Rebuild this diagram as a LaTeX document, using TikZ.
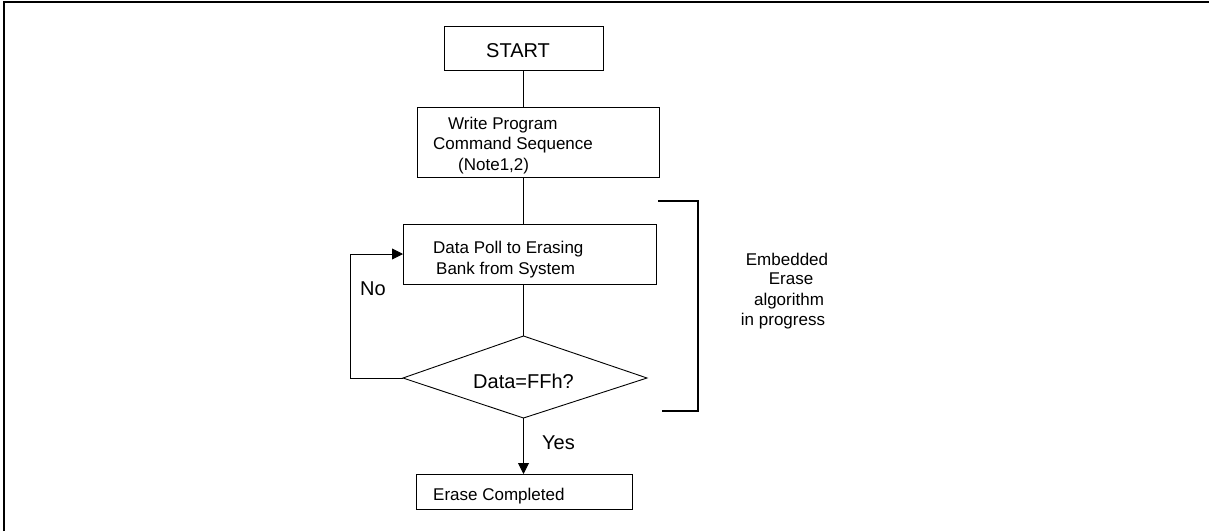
\documentclass[tikz,border=0pt]{standalone}
\usepackage{fontspec}
\setmainfont{Liberation Sans}
\usetikzlibrary{arrows.meta}
\begin{document}
\begin{tikzpicture}[x=1pt,y=-1pt,
  box/.style={draw,line width=0.9pt,inner sep=0pt,outer sep=0pt},
  dia/.style={draw,line width=0.9pt,inner sep=0pt,outer sep=0pt},
  txt/.style={inner sep=0pt,anchor=base west,font=\fontsize{17}{20}\selectfont},
  big/.style={inner sep=0pt,anchor=base west,font=\fontsize{20}{24}\selectfont},
  side/.style={inner sep=0pt,anchor=base,font=\fontsize{17}{20}\selectfont},
  conn/.style={line width=0.9pt},
  arr/.style={line width=0.9pt,-{Triangle[length=11pt,width=11pt]}},
  thick2/.style={line width=2pt}]
\useasboundingbox (0,0) rectangle (1209,531);
% frame (top and left only)
\coordinate (f1) at (4,531);
\coordinate (f2) at (4,2);
\coordinate (f3) at (1209,2);
\draw[line width=2.2pt] (f1) -- (f2) -- (f3);
% boxes
\node[box,minimum width=159pt,minimum height=44pt] (start) at (523.5,48) {};
\node[box,minimum width=242pt,minimum height=70pt] (write) at (538,142) {};
\node[box,minimum width=253pt,minimum height=60pt] (poll) at (529.5,254) {};
\coordinate (dN) at (523.5,336);
\coordinate (dE) at (647,378);
\coordinate (dS) at (523.5,418);
\coordinate (dW) at (403,378);
\draw[dia] (dN) -- (dE) -- (dS) -- (dW) -- cycle;
\node[box,minimum width=216pt,minimum height=35pt] (erase) at (524,491.5) {};
% texts
\node[big] (tstart) at (486,57) {START};
\node[txt] (tw1) at (448,129) {Write Program};
\node[txt] (tw2) at (433,149) {Command Sequence};
\node[txt] (tw3) at (458,170) {(Note1,2)};
\node[txt] (tp1) at (433,253) {Data Poll to Erasing};
\node[txt] (tp2) at (436,274) {Bank from System};
\node[big] (tdia) at (473,388) {Data=FFh?};
\node[big] (tno) at (360,295) {No};
\node[big] (tyes) at (542,449) {Yes};
\node[txt] (terase) at (433,500) {Erase Completed};
\node[side] (e1) at (787,265) {Embedded};
\node[side] (e2) at (791,284) {Erase};
\node[side] (e3) at (789,305) {algorithm};
\node[side] (e4) at (783,325) {in progress};
% connectors
\draw[conn] (start.south) -- (start.south |- write.north);
\draw[conn] (start.south |- write.south) -- (start.south |- poll.north);
\draw[conn] (start.south |- poll.south) -- (dN);
\coordinate (lp) at (350,378);
\draw[arr] (dW) -- (lp) |- (poll.west);
\draw[arr] (dS) -- (dS |- erase.north);
% bracket
\coordinate (b1) at (658,201);
\coordinate (b2) at (698,201);
\coordinate (b3) at (698,411);
\coordinate (b4) at (662,411);
\draw[thick2] (b1) -- (b2) -- (b3) -- (b4);
\end{tikzpicture}
\end{document}
